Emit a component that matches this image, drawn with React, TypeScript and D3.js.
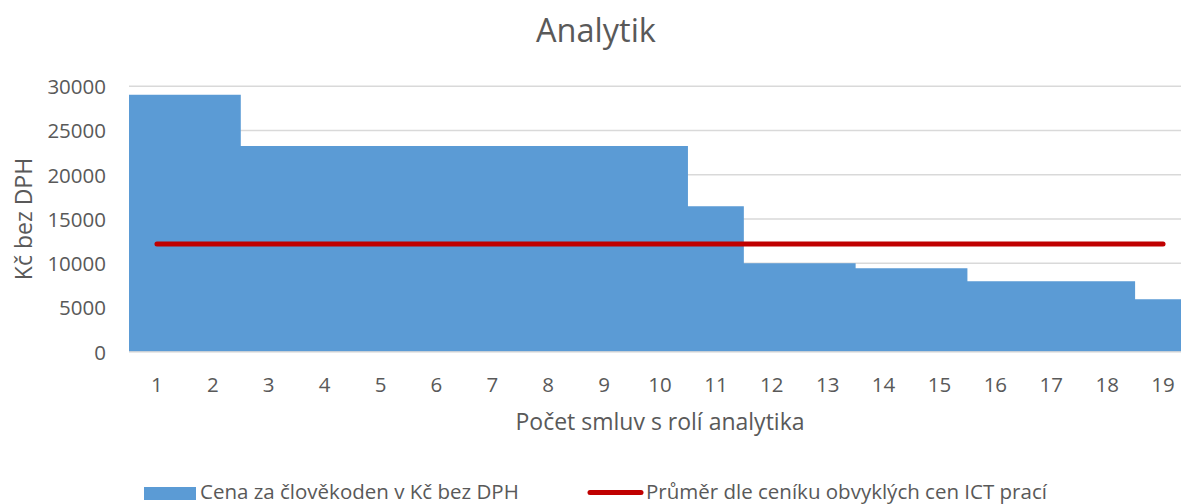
import React from "react";
import * as d3 from "d3";

const categories: string[] = ["1","2","3","4","5","6","7","8","9","10","11","12","13","14","15","16","17","18","19"];
const priceValues: number[] = [29050, 29050, 23250, 23250, 23250, 23250, 23250, 23250, 23250, 23250, 16450, 10000, 10000, 9420, 9420, 7950, 7950, 7950, 5920];
const averageValues: number[] = categories.map(() => 12180);
const yTicks: number[] = [0, 5000, 10000, 15000, 20000, 25000, 30000];

const seriesNames = ["Cena za člověkoden v Kč bez DPH", "Průměr dle ceníku obvyklých cen ICT prací"];
const title = "Analytik";
const xTitle = "Počet smluv s rolí analytika";
const yTitle = "Kč bez DPH";

const W = 1181;
const H = 504;
const FONT = "'Open Sans', sans-serif";
const TXT = "#595959";

export default function App() {
  const x = d3.scaleBand<string>().domain(categories).range([129, 1191]).padding(0);
  const y = d3.scaleLinear().domain([0, 30000]).range([351.7, 86.3]);

  const stepPts: [number, number][] = [];
  categories.forEach((c, i) => {
    const x0 = x(c)!;
    stepPts.push([x0, priceValues[i]]);
    stepPts.push([x0 + x.bandwidth(), priceValues[i]]);
  });
  const area = d3
    .area<[number, number]>()
    .x((d) => d[0])
    .y0(y(0))
    .y1((d) => y(d[1]));

  const line = d3
    .line<number>()
    .x((_, i) => x(categories[i])! + x.bandwidth() / 2)
    .y((d) => y(d));

  return (
    <svg width={W} height={H} style={{ position: "absolute", left: 0, top: 0, background: "#fff" }} fontFamily={FONT}>
      <rect width={W} height={H} fill="#fff" />
      {yTicks.map((t) => (
        <line key={"g" + t} x1={129} x2={W} y1={y(t)} y2={y(t)} stroke="#D9D9D9" strokeWidth={1.5} />
      ))}
      <path d={area(stepPts) || ""} fill="#5B9BD5" />
      <line x1={129} x2={W} y1={y(0)} y2={y(0)} stroke="#D9D9D9" strokeWidth={1} />
      <path d={line(averageValues) || ""} fill="none" stroke="#C00000" strokeWidth={5} strokeLinecap="round" />
      {yTicks.map((t) => (
        <text key={"t" + t} x={106} y={y(t) + 7.8} textAnchor="end" fontSize={20.5} fill={TXT}>
          {t}
        </text>
      ))}
      {categories.map((c) => (
        <text key={"c" + c} x={x(c)! + x.bandwidth() / 2} y={392} textAnchor="middle" fontSize={20.5} fill={TXT}>
          {c}
        </text>
      ))}
      <text x={596} y={42} textAnchor="middle" fontSize={32.5} fill={TXT}>
        {title}
      </text>
      <text x={660} y={430} textAnchor="middle" fontSize={23} fill={TXT}>
        {xTitle}
      </text>
      <text transform={`translate(32,${(y(0) + y(30000)) / 2}) rotate(-90)`} textAnchor="middle" fontSize={23} fill={TXT}>
        {yTitle}
      </text>
      <rect x={144} y={487} width={52} height={13} fill="#5B9BD5" />
      <text x={200} y={499} fontSize={20.5} fill={TXT}>
        {seriesNames[0]}
      </text>
      <line x1={590} x2={641} y1={492.5} y2={492.5} stroke="#C00000" strokeWidth={5} strokeLinecap="round" />
      <text x={646} y={499} fontSize={20.5} fill={TXT}>
        {seriesNames[1]}
      </text>
    </svg>
  );
}
